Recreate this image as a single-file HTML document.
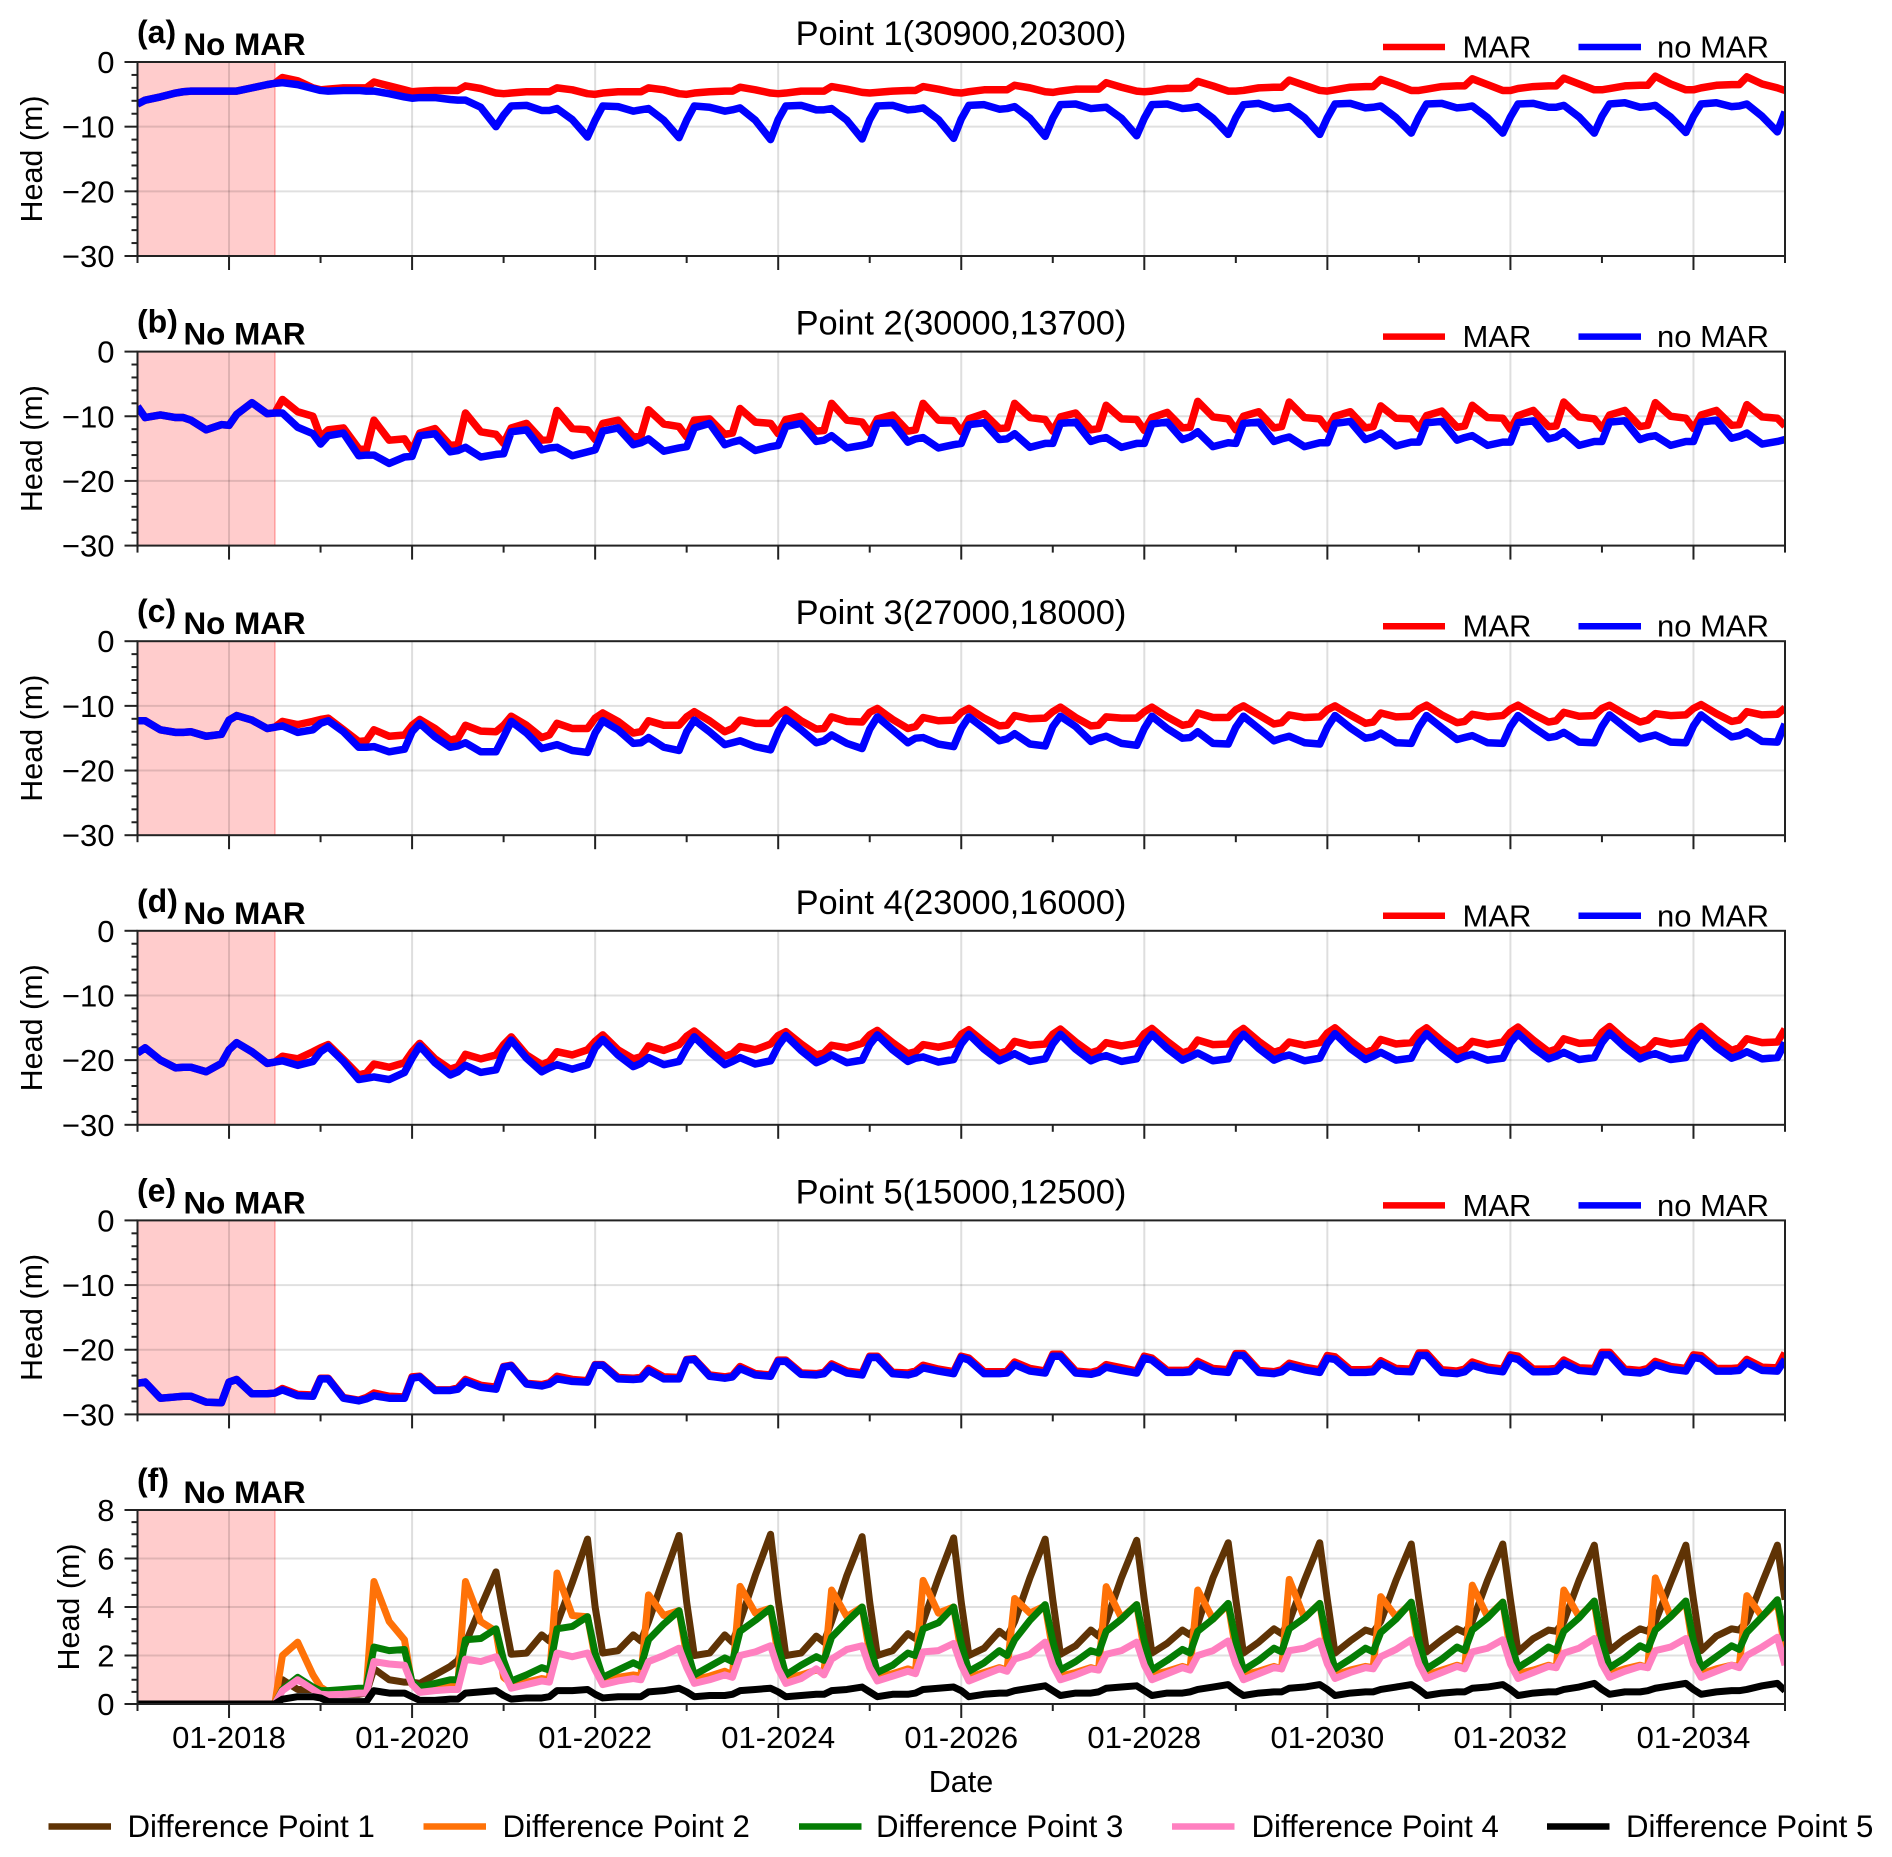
<!DOCTYPE html>
<html lang="en">
<head>
<meta charset="utf-8">
<title>Head time series at five points</title>
<style>
html,body{margin:0;padding:0;background:#fff;}
svg{display:block;font-family:"Liberation Sans",Arial,sans-serif;fill:#000;}
</style>
</head>
<body>
<svg id="chart" xmlns="http://www.w3.org/2000/svg" width="1892" height="1857" viewBox="0 0 1892 1857"></svg>
<script>
const sampleMonths=[0,1,3,5,6,7,9,11,12,13,15,17,18,19,21,23,24,25,27,29,30,31,33,35,36,37,39,41,42,43,45,47,48,49,51,53,54,55,57,59,60,61,63,65,66,67,69,71,72,73,75,77,78,79,81,83,84,85,87,89,90,91,93,95,96,97,99,101,102,103,105,107,108,109,111,113,114,115,117,119,120,121,123,125,126,127,129,131,132,133,135,137,138,139,141,143,144,145,147,149,150,151,153,155,156,157,159,161,162,163,165,167,168,169,171,173,174,175,177,179,180,181,183,185,186,187,189,191,192,193,195,197,198,199,201,203,204,205,207,209,210,211,213,215,216];
const yearLabels=['01-2018','01-2020','01-2022','01-2024','01-2026','01-2028','01-2030','01-2032','01-2034'];
const yearLabelMonths=[12,36,60,84,108,132,156,180,204];
const headTicks=[0,-10,-20,-30];
const diffTicks=[0,2,4,6,8];
const panelLetters=['(a)','(b)','(c)','(d)','(e)','(f)'];
const panelTitles=['Point 1(30900,20300)','Point 2(30000,13700)','Point 3(27000,18000)','Point 4(23000,16000)','Point 5(15000,12500)',''];

const point1Mar=[
-6.5,-5.9,-5.4,-4.8,-4.6,-4.5,-4.5,-4.5,
-4.5,-4.5,-4.0,-3.5,-3.3,-2.4,-2.9,-4.0,
-4.3,-4.2,-4.0,-4.0,-4.0,-3.1,-3.7,-4.3,
-4.6,-4.5,-4.4,-4.4,-4.4,-3.7,-4.1,-4.8,
-4.9,-4.8,-4.6,-4.6,-4.6,-4.0,-4.3,-4.9,
-5.0,-4.8,-4.6,-4.6,-4.6,-4.0,-4.3,-4.9,
-5.0,-4.8,-4.6,-4.5,-4.5,-3.9,-4.3,-4.8,
-4.9,-4.8,-4.5,-4.5,-4.5,-3.8,-4.2,-4.7,
-4.8,-4.7,-4.5,-4.4,-4.4,-3.8,-4.2,-4.7,
-4.8,-4.6,-4.3,-4.3,-4.3,-3.6,-4.0,-4.6,
-4.7,-4.5,-4.2,-4.2,-4.2,-3.2,-3.9,-4.5,
-4.6,-4.5,-4.1,-4.1,-4.0,-3.0,-3.7,-4.5,
-4.5,-4.4,-4.0,-3.9,-3.9,-2.8,-3.6,-4.4,
-4.5,-4.3,-3.9,-3.8,-3.8,-2.7,-3.5,-4.4,
-4.4,-4.2,-3.8,-3.7,-3.7,-2.6,-3.5,-4.4,
-4.4,-4.1,-3.8,-3.7,-3.7,-2.5,-3.4,-4.3,
-4.3,-4.1,-3.7,-3.6,-3.6,-2.2,-3.4,-4.3,
-4.3,-4.0,-3.6,-3.5,-3.5,-2.3,-3.4,-4.0,
-4.4];
const point1NoMar=[
-6.5,-5.9,-5.4,-4.8,-4.6,-4.5,-4.5,-4.5,
-4.5,-4.5,-4.0,-3.5,-3.3,-3.2,-3.5,-4.1,
-4.4,-4.5,-4.4,-4.4,-4.5,-4.5,-4.9,-5.4,
-5.6,-5.5,-5.5,-5.8,-5.9,-5.9,-7.0,-10.0,
-8.2,-6.8,-6.7,-7.5,-7.5,-7.2,-8.9,-11.6,
-9.0,-6.8,-6.9,-7.6,-7.4,-7.2,-9.0,-11.7,
-9.0,-6.8,-7.0,-7.6,-7.4,-7.1,-9.0,-12.0,
-8.9,-6.8,-6.7,-7.4,-7.4,-7.2,-9.0,-11.9,
-8.9,-6.8,-6.7,-7.4,-7.3,-7.1,-8.9,-11.8,
-8.8,-6.7,-6.6,-7.3,-7.2,-6.9,-8.7,-11.5,
-8.7,-6.6,-6.5,-7.2,-7.1,-7.0,-8.7,-11.4,
-8.7,-6.6,-6.5,-7.2,-7.1,-6.9,-8.7,-11.2,
-8.6,-6.6,-6.4,-7.2,-7.1,-6.9,-8.6,-11.2,
-8.6,-6.5,-6.4,-7.1,-7.0,-6.8,-8.6,-11.0,
-8.5,-6.5,-6.4,-7.1,-7.0,-6.8,-8.6,-11.0,
-8.5,-6.5,-6.4,-7.0,-7.0,-6.7,-8.5,-11.0,
-8.4,-6.5,-6.3,-7.0,-6.9,-6.7,-8.5,-10.9,
-8.4,-6.5,-6.3,-6.9,-6.8,-6.5,-8.4,-10.8,
-7.7];
const point2Mar=[
-8.5,-10.2,-9.8,-10.2,-10.2,-10.6,-12.1,-11.3,
-11.4,-9.7,-7.9,-9.6,-9.5,-7.4,-9.3,-10.0,
-13.2,-12.1,-11.8,-15.0,-15.2,-10.6,-13.7,-13.5,
-15.3,-12.6,-11.9,-14.5,-14.4,-9.5,-12.4,-12.8,
-14.2,-11.8,-11.1,-13.7,-13.6,-9.1,-11.9,-12.1,
-13.6,-11.1,-10.6,-13.2,-13.1,-9.0,-11.2,-11.6,
-13.2,-10.6,-10.4,-12.8,-12.6,-8.8,-10.9,-11.1,
-12.7,-10.5,-10.0,-12.3,-12.2,-8.0,-10.6,-10.9,
-12.6,-10.4,-9.8,-12.3,-12.1,-8.0,-10.6,-10.7,
-12.4,-10.4,-9.6,-11.9,-11.8,-8.0,-10.2,-10.5,
-12.3,-10.1,-9.5,-12.1,-11.9,-8.3,-10.4,-10.5,
-12.2,-10.2,-9.4,-11.8,-11.7,-7.7,-10.1,-10.4,
-12.1,-10.0,-9.3,-11.8,-11.6,-7.8,-10.2,-10.4,
-12.0,-10.0,-9.3,-11.8,-11.6,-8.4,-10.3,-10.4,
-11.9,-9.9,-9.2,-11.7,-11.5,-8.3,-10.2,-10.3,
-12.0,-9.9,-9.1,-11.6,-11.5,-7.8,-10.1,-10.4,
-11.9,-9.8,-9.1,-11.6,-11.4,-7.9,-10.0,-10.3,
-11.9,-9.8,-9.1,-11.4,-11.3,-8.2,-10.1,-10.3,
-11.5];
const point2NoMar=[
-8.5,-10.2,-9.8,-10.2,-10.2,-10.6,-12.1,-11.3,
-11.4,-9.7,-7.9,-9.6,-9.5,-9.5,-11.7,-12.7,
-14.3,-13.0,-12.6,-16.1,-16.0,-16.0,-17.3,-16.3,
-16.2,-13.0,-12.7,-15.5,-15.3,-14.8,-16.3,-15.9,
-15.8,-12.4,-12.1,-15.2,-14.9,-14.8,-16.1,-15.5,
-15.2,-12.3,-11.8,-14.4,-14.1,-13.5,-15.4,-14.9,
-14.7,-11.8,-11.1,-14.4,-14.0,-13.7,-15.3,-14.7,
-14.5,-11.6,-11.1,-13.9,-13.7,-13.0,-14.9,-14.5,
-14.2,-11.1,-11.0,-14.0,-13.5,-13.3,-14.9,-14.4,
-14.2,-11.3,-11.0,-13.6,-13.5,-12.7,-14.8,-14.2,
-14.2,-11.1,-10.9,-13.9,-13.5,-13.3,-14.8,-14.2,
-14.2,-11.2,-10.9,-13.6,-13.2,-12.4,-14.7,-14.1,
-14.2,-11.1,-10.9,-13.9,-13.5,-13.2,-14.7,-14.1,
-14.1,-11.1,-10.8,-13.6,-13.2,-12.6,-14.6,-14.0,
-14.0,-11.0,-10.8,-13.7,-13.3,-13.0,-14.5,-14.0,
-14.0,-11.0,-10.7,-13.5,-13.2,-12.4,-14.5,-13.9,
-13.9,-10.9,-10.7,-13.6,-13.2,-13.0,-14.5,-13.9,
-13.9,-10.9,-10.6,-13.4,-13.1,-12.6,-14.3,-13.9,
-13.6];
const point3Mar=[
-12.3,-12.3,-13.7,-14.1,-14.1,-14.0,-14.7,-14.4,
-12.2,-11.5,-12.2,-13.5,-13.3,-12.4,-12.9,-12.4,
-12.1,-11.9,-13.7,-15.5,-15.4,-13.7,-14.7,-14.5,
-13.0,-12.1,-13.5,-15.3,-15.0,-13.0,-13.9,-14.0,
-13.0,-11.6,-13.0,-14.9,-14.5,-12.7,-13.5,-13.5,
-11.9,-11.1,-12.4,-14.2,-14.0,-12.3,-13.0,-13.0,
-11.7,-10.9,-12.3,-14.0,-13.5,-12.2,-12.7,-12.7,
-11.4,-10.6,-12.3,-13.6,-13.5,-11.7,-12.4,-12.5,
-11.0,-10.4,-12.1,-13.5,-13.2,-11.8,-12.3,-12.2,
-11.0,-10.4,-11.9,-13.1,-13.0,-11.5,-12.0,-11.9,
-10.9,-10.2,-11.8,-13.1,-13.0,-11.7,-11.9,-11.9,
-10.9,-10.2,-11.7,-13.0,-12.8,-11.1,-11.8,-11.8,
-10.6,-10.0,-11.4,-12.8,-12.6,-11.4,-11.8,-11.7,
-10.6,-10.0,-11.4,-12.7,-12.5,-11.1,-11.7,-11.6,
-10.5,-9.9,-11.4,-12.6,-12.4,-11.3,-11.7,-11.5,
-10.5,-9.9,-11.3,-12.5,-12.3,-11.0,-11.6,-11.5,
-10.4,-9.9,-11.3,-12.5,-12.2,-11.2,-11.5,-11.4,
-10.4,-9.8,-11.2,-12.4,-12.2,-10.9,-11.4,-11.3,
-10.3];
const point3NoMar=[
-12.3,-12.3,-13.7,-14.1,-14.1,-14.0,-14.7,-14.4,
-12.2,-11.5,-12.2,-13.5,-13.3,-13.1,-14.1,-13.7,
-12.7,-12.3,-14.0,-16.4,-16.4,-16.3,-17.1,-16.7,
-14.0,-12.7,-14.8,-16.4,-16.2,-15.7,-17.1,-17.1,
-14.8,-12.4,-14.2,-16.6,-16.3,-16.0,-16.9,-17.2,
-14.2,-12.3,-13.7,-15.8,-15.7,-14.9,-16.4,-16.9,
-14.0,-12.2,-14.0,-16.0,-15.7,-15.4,-16.3,-16.8,
-14.0,-11.9,-13.7,-15.7,-15.4,-14.5,-15.8,-16.6,
-13.6,-11.7,-13.7,-15.7,-15.0,-14.9,-15.9,-16.3,
-13.5,-11.7,-13.5,-15.4,-15.1,-14.3,-15.9,-16.2,
-13.2,-11.6,-13.2,-15.5,-15.0,-14.7,-15.8,-16.1,
-13.5,-11.6,-13.5,-15.0,-14.9,-14.0,-15.8,-15.9,
-13.3,-11.6,-13.5,-15.4,-15.0,-14.7,-15.7,-15.9,
-13.3,-11.5,-13.4,-15.0,-14.8,-14.2,-15.7,-15.8,
-13.3,-11.5,-13.4,-15.2,-14.9,-14.6,-15.7,-15.8,
-13.2,-11.5,-13.3,-14.9,-14.7,-14.1,-15.6,-15.7,
-13.2,-11.4,-13.3,-15.1,-14.8,-14.5,-15.6,-15.7,
-13.1,-11.4,-13.2,-14.8,-14.6,-14.0,-15.5,-15.6,
-12.8];
const point4Mar=[
-18.9,-18.1,-20.0,-21.2,-21.1,-21.1,-21.8,-20.5,
-18.4,-17.3,-18.7,-20.5,-20.3,-19.4,-19.8,-18.7,
-18.1,-17.6,-19.9,-22.3,-22.0,-20.6,-21.1,-20.4,
-18.7,-17.4,-19.8,-21.4,-21.0,-19.1,-19.8,-19.2,
-17.6,-16.4,-19.2,-20.7,-20.2,-18.7,-19.2,-18.4,
-17.1,-16.1,-18.4,-19.8,-19.5,-17.8,-18.5,-17.6,
-16.3,-15.5,-17.4,-19.4,-19.0,-17.9,-18.4,-17.5,
-16.2,-15.6,-17.5,-19.2,-18.9,-17.7,-18.1,-17.4,
-16.1,-15.4,-17.3,-19.0,-18.7,-17.6,-18.0,-17.5,
-16.0,-15.3,-17.2,-19.0,-18.6,-17.1,-17.7,-17.5,
-16.0,-15.2,-17.2,-18.9,-18.5,-17.3,-17.8,-17.4,
-15.9,-15.1,-17.1,-18.9,-18.5,-16.9,-17.6,-17.5,
-15.9,-15.1,-17.1,-18.8,-18.4,-17.2,-17.7,-17.3,
-15.8,-15.0,-17.0,-18.8,-18.4,-16.8,-17.5,-17.3,
-15.8,-15.0,-17.0,-18.7,-18.3,-17.1,-17.6,-17.2,
-15.7,-14.9,-16.9,-18.7,-18.3,-16.7,-17.4,-17.3,
-15.7,-14.8,-16.9,-18.6,-18.2,-17.0,-17.5,-17.2,
-15.7,-14.8,-16.8,-18.5,-18.1,-16.7,-17.3,-17.2,
-15.2];
const point4NoMar=[
-18.9,-18.1,-20.0,-21.2,-21.1,-21.1,-21.8,-20.5,
-18.4,-17.3,-18.7,-20.5,-20.3,-20.1,-20.8,-20.2,
-18.7,-17.9,-20.2,-23.0,-22.8,-22.6,-23.0,-21.9,
-19.7,-17.8,-20.4,-22.3,-21.8,-20.8,-21.9,-21.5,
-18.7,-16.9,-19.7,-21.8,-21.2,-20.7,-21.4,-20.7,
-18.1,-16.8,-19.2,-21.0,-20.5,-19.6,-20.7,-20.2,
-18.1,-16.4,-18.7,-20.7,-20.2,-19.6,-20.6,-20.1,
-17.8,-16.2,-18.5,-20.4,-19.9,-19.2,-20.4,-20.0,
-17.6,-16.1,-18.4,-20.2,-19.7,-19.5,-20.3,-19.9,
-17.5,-16.0,-18.3,-20.1,-19.6,-19.0,-20.2,-19.8,
-17.5,-16.0,-18.3,-20.1,-19.6,-19.3,-20.2,-19.8,
-17.5,-16.0,-18.2,-20.0,-19.5,-18.9,-20.1,-19.8,
-17.4,-16.0,-18.2,-20.0,-19.5,-19.2,-20.1,-19.7,
-17.4,-15.9,-18.2,-19.9,-19.4,-18.8,-20.0,-19.7,
-17.4,-15.9,-18.1,-19.9,-19.4,-19.1,-20.0,-19.7,
-17.3,-15.9,-18.1,-19.8,-19.4,-18.8,-19.9,-19.6,
-17.3,-15.8,-18.0,-19.8,-19.3,-19.0,-19.9,-19.6,
-17.3,-15.8,-18.0,-19.7,-19.3,-18.7,-19.8,-19.6,
-17.3];
const point5Mar=[
-25.2,-25.0,-27.5,-27.3,-27.2,-27.2,-28.1,-28.2,
-25.0,-24.6,-26.8,-26.8,-26.7,-26.0,-26.9,-27.0,
-24.4,-24.4,-27.4,-27.8,-27.4,-26.7,-27.2,-27.3,
-24.2,-24.1,-26.2,-26.2,-25.9,-24.6,-25.5,-25.8,
-22.6,-22.4,-25.2,-25.4,-25.1,-24.1,-24.6,-24.8,
-22.3,-22.3,-24.3,-24.4,-24.3,-22.9,-24.2,-24.3,
-21.5,-21.4,-23.9,-24.2,-24.0,-22.6,-23.7,-23.9,
-21.6,-21.6,-23.6,-23.7,-23.5,-22.2,-23.3,-23.6,
-21.0,-21.0,-23.5,-23.6,-23.3,-22.4,-23.0,-23.4,
-21.0,-21.3,-23.4,-23.4,-23.3,-21.9,-22.9,-23.3,
-20.7,-20.7,-23.3,-23.5,-23.2,-22.3,-22.8,-23.3,
-21.0,-21.3,-23.2,-23.2,-23.1,-21.8,-22.9,-23.1,
-20.6,-20.6,-23.2,-23.4,-23.1,-22.1,-22.7,-23.1,
-20.9,-21.1,-23.1,-23.1,-23.0,-21.7,-22.9,-23.0,
-20.5,-20.5,-23.1,-23.3,-23.0,-21.9,-22.7,-23.0,
-20.8,-21.0,-23.0,-23.0,-22.9,-21.6,-22.8,-22.9,
-20.4,-20.4,-23.0,-23.2,-22.9,-21.8,-22.6,-22.9,
-20.8,-20.9,-22.9,-22.9,-22.8,-21.5,-22.7,-22.8,
-20.5];
const point5NoMar=[
-25.2,-25.0,-27.5,-27.3,-27.2,-27.2,-28.1,-28.2,
-25.0,-24.6,-26.8,-26.8,-26.7,-26.2,-27.1,-27.2,
-24.5,-24.5,-27.5,-27.9,-27.6,-27.1,-27.5,-27.5,
-24.4,-24.2,-26.3,-26.3,-26.1,-24.9,-25.8,-26.1,
-22.7,-22.5,-25.3,-25.6,-25.3,-24.5,-24.9,-25.0,
-22.4,-22.4,-24.5,-24.6,-24.5,-23.2,-24.5,-24.5,
-21.6,-21.5,-24.1,-24.4,-24.2,-22.9,-23.9,-24.1,
-21.8,-21.8,-23.8,-23.9,-23.7,-22.5,-23.6,-23.9,
-21.2,-21.2,-23.7,-23.9,-23.6,-22.8,-23.3,-23.7,
-21.2,-21.6,-23.7,-23.7,-23.6,-22.3,-23.3,-23.6,
-21.0,-21.0,-23.6,-23.8,-23.5,-22.7,-23.2,-23.6,
-21.3,-21.6,-23.5,-23.5,-23.4,-22.2,-23.3,-23.5,
-20.9,-20.9,-23.5,-23.7,-23.4,-22.5,-23.1,-23.5,
-21.3,-21.5,-23.5,-23.5,-23.4,-22.1,-23.3,-23.4,
-20.9,-20.9,-23.5,-23.7,-23.4,-22.4,-23.1,-23.4,
-21.2,-21.5,-23.4,-23.4,-23.3,-22.1,-23.2,-23.4,
-20.8,-20.8,-23.4,-23.6,-23.3,-22.3,-23.0,-23.3,
-21.2,-21.4,-23.3,-23.3,-23.2,-22.0,-23.2,-23.3,
-21.5];

const difference1=[
0,0,0,0,0,0,0,0,
0,0,0,0,0,1.0,0.6,0.6,
0.5,0.45,0.4,0.4,0.45,1.45,1.0,0.9,
0.9,0.85,1.2,1.55,1.8,2.5,4.0,5.45,
3.7,2.05,2.1,2.85,2.6,3.3,5.0,6.8,
4.0,2.1,2.2,2.85,2.6,3.4,5.2,6.95,
4.2,2.0,2.1,2.85,2.55,3.4,5.3,7.0,
4.3,2.0,2.1,2.8,2.55,3.4,5.3,6.9,
4.2,2.0,2.2,2.9,2.7,3.4,5.2,6.85,
4.2,2.0,2.3,3.0,2.75,3.4,5.2,6.8,
4.3,2.05,2.4,3.05,2.8,3.4,5.2,6.75,
4.3,2.1,2.5,3.05,2.85,3.3,5.2,6.65,
4.3,2.1,2.55,3.1,2.9,3.4,5.1,6.65,
4.3,2.1,2.6,3.05,2.95,3.4,5.1,6.6,
4.3,2.15,2.65,3.1,2.95,3.4,5.1,6.6,
4.3,2.15,2.7,3.05,3.0,3.4,5.1,6.55,
4.3,2.2,2.7,3.1,3.0,3.4,5.0,6.55,
4.3,2.2,2.8,3.1,3.05,3.4,5.0,6.55,
4.3];
const difference2=[
0,0,0,0,0,0,0,0,
0,0,0,0,0,2.0,2.55,1.2,
0.7,0.5,0.55,0.6,0.6,5.05,3.4,2.65,
0.8,0.7,0.75,0.8,0.85,5.05,3.4,3.0,
1.1,0.85,0.9,1.05,1.0,5.4,3.65,3.6,
1.9,1.0,1.1,1.2,1.15,4.5,3.65,3.85,
2.0,1.0,1.15,1.35,1.2,4.85,3.75,3.95,
2.0,1.05,1.2,1.4,1.3,4.7,3.6,4.0,
2.1,1.1,1.25,1.45,1.35,5.1,3.75,4.0,
2.1,1.1,1.3,1.5,1.4,4.35,3.75,4.05,
2.2,1.15,1.3,1.5,1.4,4.84,3.55,4.1,
2.2,1.2,1.35,1.55,1.45,4.7,3.5,4.1,
2.2,1.2,1.35,1.55,1.45,5.14,3.55,4.15,
2.2,1.2,1.4,1.55,1.5,4.43,3.6,4.15,
2.2,1.2,1.4,1.6,1.5,4.9,3.6,4.2,
2.2,1.25,1.4,1.6,1.5,4.7,3.6,4.2,
2.2,1.25,1.45,1.6,1.5,5.2,3.6,4.2,
2.2,1.25,1.45,1.6,1.55,4.47,3.6,4.2,
2.2];
const difference3=[
0,0,0,0,0,0,0,0,
0,0,0,0,0,0.6,1.1,0.7,
0.55,0.55,0.6,0.65,0.65,2.35,2.2,2.25,
0.9,0.7,0.85,1.0,1.0,2.65,2.7,3.1,
1.8,0.95,1.2,1.5,1.4,3.1,3.2,3.6,
2.1,1.1,1.4,1.7,1.55,2.65,3.3,3.85,
2.3,1.2,1.55,1.9,1.75,3.0,3.45,3.95,
2.4,1.2,1.6,1.95,1.8,2.75,3.4,4.0,
2.5,1.3,1.6,2.1,2.0,3.1,3.35,4.0,
2.5,1.35,1.7,2.2,2.0,2.65,3.45,4.1,
2.6,1.4,1.75,2.2,2.1,3.0,3.5,4.1,
2.6,1.4,1.8,2.25,2.1,3.0,3.5,4.15,
2.6,1.4,1.8,2.3,2.15,3.1,3.55,4.15,
2.6,1.45,1.85,2.3,2.15,2.95,3.5,4.2,
2.6,1.45,1.85,2.35,2.2,3.05,3.55,4.2,
2.6,1.5,1.9,2.35,2.2,3.0,3.55,4.25,
2.6,1.5,1.9,2.4,2.25,3.05,3.6,4.25,
2.6,1.5,1.95,2.4,2.25,2.95,3.6,4.3,
2.6];
const difference4=[
0,0,0,0,0,0,0,0,
0,0,0,0,0,0.55,1.0,0.6,
0.4,0.38,0.4,0.45,0.45,1.75,1.65,1.6,
0.8,0.48,0.55,0.6,0.6,1.85,1.75,1.95,
1.3,0.65,0.8,0.95,0.9,2.1,1.95,2.1,
1.4,0.8,0.95,1.05,1.0,1.75,2.0,2.3,
1.5,0.85,1.0,1.2,1.1,2.0,2.15,2.4,
1.45,0.85,1.05,1.45,1.2,1.85,2.25,2.4,
1.5,0.95,1.15,1.35,1.25,2.15,2.2,2.5,
1.6,0.95,1.2,1.45,1.35,1.85,2.05,2.55,
1.6,1.0,1.2,1.45,1.4,2.05,2.2,2.55,
1.6,1.0,1.25,1.5,1.4,2.0,2.2,2.6,
1.65,1.0,1.25,1.5,1.45,2.2,2.3,2.6,
1.65,1.05,1.3,1.5,1.45,1.95,2.25,2.65,
1.65,1.05,1.3,1.55,1.45,2.15,2.3,2.65,
1.65,1.05,1.3,1.55,1.5,2.1,2.3,2.7,
1.65,1.1,1.35,1.55,1.5,2.2,2.35,2.7,
1.65,1.1,1.35,1.6,1.5,2.0,2.35,2.75,
1.6];
const difference5=[
0,0,0,0,0,0,0,0,
0,0,0,0,0,0.2,0.3,0.3,
0.25,0.1,0.1,0.1,0.1,0.55,0.45,0.45,
0.3,0.15,0.15,0.2,0.2,0.45,0.5,0.55,
0.35,0.2,0.25,0.25,0.3,0.55,0.55,0.6,
0.4,0.25,0.3,0.3,0.3,0.5,0.55,0.65,
0.5,0.3,0.35,0.35,0.4,0.55,0.6,0.65,
0.5,0.3,0.35,0.4,0.4,0.55,0.6,0.7,
0.5,0.3,0.4,0.4,0.45,0.6,0.65,0.7,
0.55,0.3,0.4,0.45,0.45,0.55,0.65,0.75,
0.55,0.35,0.45,0.45,0.5,0.65,0.7,0.75,
0.55,0.35,0.45,0.45,0.5,0.6,0.7,0.8,
0.55,0.35,0.45,0.5,0.5,0.65,0.7,0.8,
0.6,0.35,0.45,0.5,0.5,0.6,0.7,0.8,
0.6,0.35,0.45,0.5,0.5,0.65,0.7,0.8,
0.6,0.35,0.45,0.5,0.5,0.6,0.7,0.85,
0.6,0.4,0.5,0.5,0.55,0.65,0.75,0.85,
0.6,0.4,0.5,0.55,0.55,0.6,0.75,0.85,
0.55];

const headSeriesByPanel=[[point1Mar,point1NoMar],[point2Mar,point2NoMar],[point3Mar,point3NoMar],[point4Mar,point4NoMar],[point5Mar,point5NoMar]];
const differenceSeries=[difference1,difference2,difference3,difference4,difference5];
const differenceNames=['Difference Point 1','Difference Point 2','Difference Point 3','Difference Point 4','Difference Point 5'];
const differenceColors=['#5f3305','#ff7208','#047d04','#ff80c0','#000000'];

const svg=document.getElementById('chart');
const NS='http://www.w3.org/2000/svg';
const LEFT=137.5, RIGHT=1785, TOTAL_MONTHS=216, PANEL_H=194;
function xScale(m){return LEFT+m/TOTAL_MONTHS*(RIGHT-LEFT);}
function make(tag,attrs,parent,text){
  const e=document.createElementNS(NS,tag);
  for(const k in attrs)e.setAttribute(k,attrs[k]);
  if(text!==undefined)e.textContent=text;
  (parent||svg).appendChild(e);
  return e;
}
function fmt(v){return v<0?'\u2212'+Math.abs(v):String(v);}
function linePath(values,yScale){
  return values.map(function(v,i){return (i?'L':'M')+xScale(sampleMonths[i]).toFixed(2)+' '+yScale(v).toFixed(2);}).join('');
}

function drawAxes(g,idx,top,yMin,yMax,ticks,minorStep,yScale){
  const bottom=top+PANEL_H;
  const shade=make('rect',{x:LEFT,y:top,width:xScale(18)-LEFT,height:PANEL_H,fill:'#ffcccc'},g);
  
  
  const shadeEdge=make('line',{x1:xScale(18),x2:xScale(18),y1:top,y2:bottom,stroke:'#ff9c9c','stroke-width':1.5},g);
  
  
  ticks.forEach(function(v){
    if(v===yMin||v===yMax)return;
    const grid=make('line',{x1:LEFT,x2:RIGHT,y1:yScale(v),y2:yScale(v),stroke:'#000','stroke-opacity':0.12,'stroke-width':2},g);
    
    
  });
  yearLabelMonths.forEach(function(m){
    const grid=make('line',{x1:xScale(m),x2:xScale(m),y1:top,y2:bottom,stroke:'#000','stroke-opacity':0.13,'stroke-width':2},g);
    
    
  });
}

function drawFrame(g,idx,top,yMin,yMax,ticks,minorStep,yScale){
  const bottom=top+PANEL_H;
  const frame=make('rect',{x:LEFT,y:top,width:RIGHT-LEFT,height:PANEL_H,fill:'none',stroke:'#222','stroke-width':2},g);
  
  
  for(let v=yMin;v<=yMax+1e-6;v+=minorStep){
    const isMajor=ticks.some(function(t){return Math.abs(t-v)<1e-6;});
    const tick=make('line',{x1:LEFT-(isMajor?13:6),x2:LEFT,y1:yScale(v),y2:yScale(v),stroke:'#222','stroke-width':2},g);
    
    
  }
  ticks.forEach(function(v){
    const lab=make('text',{x:114.5,y:yScale(v)+11,'text-anchor':'end','font-size':31},g,fmt(v));
    
    
  });
  for(let m=0;m<=TOTAL_MONTHS;m+=12){
    const isMajor=yearLabelMonths.indexOf(m)>=0;
    const tick=make('line',{x1:xScale(m),x2:xScale(m),y1:bottom,y2:bottom+(isMajor?14:7),stroke:'#222','stroke-width':2},g);
    
    
  }
  const letter=make('text',{x:137,y:top-19,'font-size':32,'font-weight':'bold'},g,panelLetters[idx]);
  
  
  const noMar=make('text',{x:183.5,y:top-7,'font-size':31.4,'font-weight':'bold'},g,'No MAR');
  
  
  const yTitle=make('text',{x:0,y:0,'text-anchor':'middle','font-size':30.5,transform:'translate('+(idx===5?79:42)+' '+(top+PANEL_H/2)+') rotate(-90)'},g,'Head (m)');
  
  
  if(panelTitles[idx]){
    const title=make('text',{x:961,y:top-17,'text-anchor':'middle','font-size':34.4},g,panelTitles[idx]);
    
    
  }
}

function addClip(idx,top){
  const cp=make('clipPath',{id:'clip'+idx});
  make('rect',{x:LEFT,y:top,width:RIGHT-LEFT,height:PANEL_H},cp);
}

/* panels (a)-(e) */
headSeriesByPanel.forEach(function(pair,i){
  const top=62+289.6*i;
  const yScale=function(v){return top+(0-v)/30*PANEL_H;};
  const g=make('g',{});
  
  
  addClip(i,top);
  drawAxes(g,i,top,-30,0,headTicks,2,yScale);
  const red=make('path',{d:linePath(pair[0],yScale),fill:'none',stroke:'#ff0000','stroke-width':7.5,'stroke-linejoin':'round','clip-path':'url(#clip'+i+')'},g);
  
  
  const blue=make('path',{d:linePath(pair[1],yScale),fill:'none',stroke:'#0000ff','stroke-width':7.5,'stroke-linejoin':'round','clip-path':'url(#clip'+i+')'},g);
  
  
  drawFrame(g,i,top,-30,0,headTicks,2,yScale);
  const legendY=top-15;
  const k1=make('line',{x1:1383,x2:1445,y1:legendY,y2:legendY,stroke:'#ff0000','stroke-width':6.5},g);
  
  
  const t1=make('text',{x:1462.5,y:top-4.5,'font-size':31},g,'MAR');
  
  
  const k2=make('line',{x1:1578.5,x2:1641,y1:legendY,y2:legendY,stroke:'#0000ff','stroke-width':6.5},g);
  
  
  const t2=make('text',{x:1657,y:top-4.5,'font-size':31},g,'no MAR');
  
  
});

/* panel (f) */
(function(){
  const top=1510, i=5;
  const yScale=function(v){return top+PANEL_H-v/8*PANEL_H;};
  const g=make('g',{});
  
  
  addClip(i,top);
  drawAxes(g,i,top,0,8,diffTicks,0.5,yScale);
  differenceSeries.forEach(function(values,s){
    const p=make('path',{d:linePath(values,yScale),fill:'none',stroke:differenceColors[s],'stroke-width':7,'stroke-linejoin':'round','clip-path':'url(#clip'+i+')'},g);
    
    
  });
  drawFrame(g,i,top,0,8,diffTicks,0.5,yScale);
  yearLabels.forEach(function(lab,k){
    const t=make('text',{x:xScale(yearLabelMonths[k]),y:1748,'text-anchor':'middle','font-size':31},g,lab);
    
    
  });
  const xTitle=make('text',{x:961,y:1792,'text-anchor':'middle','font-size':30.5},g,'Date');
  
  
})();

/* bottom legend */
const legendSwatchStarts=[48.5,423.5,799,1172,1547];
const legendTextStarts=[127.5,502.5,876,1251.5,1626];
differenceNames.forEach(function(name,s){
  const sw=make('line',{x1:legendSwatchStarts[s],x2:legendSwatchStarts[s]+62.5,y1:1826.5,y2:1826.5,stroke:differenceColors[s],'stroke-width':6.5});
  
  
  const t=make('text',{x:legendTextStarts[s],y:1837,'font-size':31.2},svg,name);
  
  
});
</script>
</body>
</html>
